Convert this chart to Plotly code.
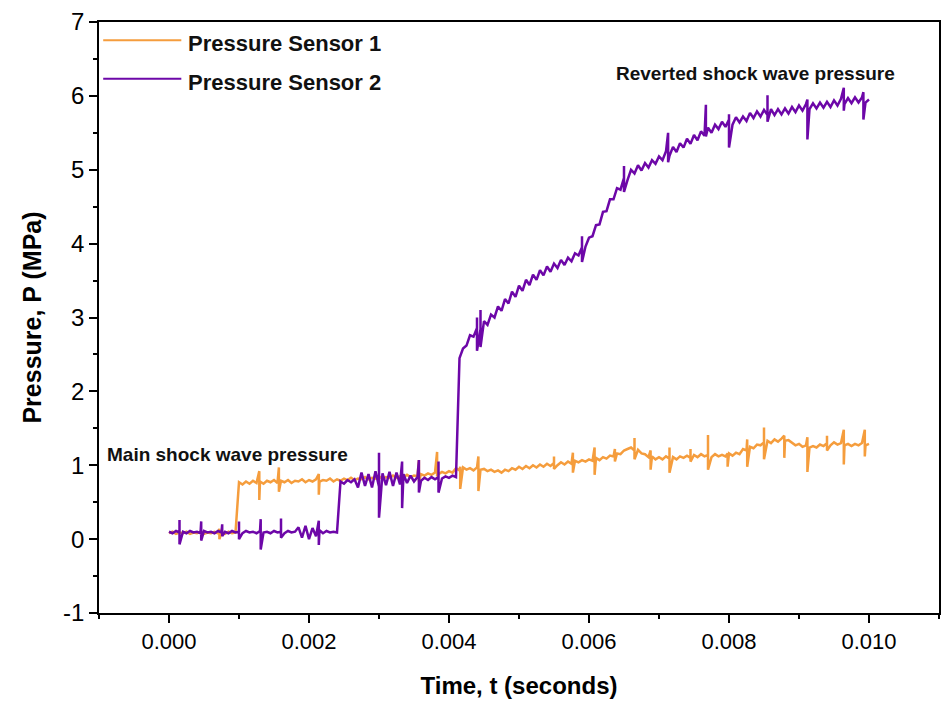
import plotly.graph_objects as go

# ---------------- data ----------------
T_STEP = 0.00005  # sample spacing of the traces (s)

sensor1_p = [
    0.08, 0.10, 0.07, 0.09, 0.08, 0.10, 0.07, 0.09, 0.08, 0.10, 0.07, 0.09, 0.08, 0.10, 0.08, 0.09, 0.07, 0.10, 0.08, 0.09,
    0.77, 0.74, 0.78, 0.75, 0.79, 0.76, 0.78, 0.75, 0.79, 0.77, 0.80, 0.76, 0.79, 0.77, 0.80, 0.76, 0.79, 0.78, 0.81, 0.77,
    0.80, 0.78, 0.81, 0.78, 0.80, 0.79, 0.82, 0.78,
    0.81, 0.79, 0.82, 0.80, 0.83, 0.80, 0.82, 0.81, 0.84, 0.81, 0.83, 0.82, 0.85, 0.82, 0.84, 0.83, 0.86, 0.83, 0.85, 0.84,
    0.87, 0.84, 0.86, 0.85, 0.88, 0.86,
    0.89, 0.87, 0.90, 0.88, 0.91, 0.89, 0.92, 0.90,
    0.96, 0.93, 0.97, 0.94, 0.96, 0.93, 0.97, 0.94,
    0.95, 0.92, 0.94, 0.91, 0.93, 0.90, 0.94, 0.92, 0.96, 0.94,
    0.98, 0.95, 0.99, 0.96, 1.00, 0.97, 1.01, 0.98, 1.02, 0.99, 1.03, 1.00,
    1.04, 1.01, 1.05, 1.02, 1.06, 1.04, 1.07, 1.05, 1.08, 1.06, 1.10, 1.07,
    1.11, 1.09, 1.13, 1.12, 1.16, 1.15, 1.20, 1.22,
    1.24, 1.20, 1.21, 1.16, 1.15, 1.11, 1.12, 1.08,
    1.11, 1.08, 1.12, 1.09, 1.11, 1.08, 1.12, 1.10, 1.13, 1.10,
    1.14, 1.11, 1.15, 1.12, 1.14, 1.11, 1.15, 1.12, 1.14, 1.12, 1.16, 1.13,
    1.17, 1.15, 1.22, 1.20, 1.25, 1.23, 1.28, 1.27, 1.31,
    1.33, 1.30, 1.35, 1.32, 1.36, 1.33, 1.34,
    1.30, 1.27, 1.29, 1.25, 1.27, 1.24, 1.26, 1.24,
    1.28, 1.26, 1.30, 1.27, 1.31, 1.28, 1.30, 1.27, 1.29, 1.26, 1.29, 1.27, 1.30, 1.27, 1.29,
]

sensor2_p = [
    0.10, 0.08, 0.11, 0.09, 0.10, 0.08, 0.11, 0.09, 0.10, 0.08,
    0.11, 0.09, 0.10, 0.08, 0.11, 0.09, 0.10, 0.08, 0.11, 0.09,
    0.10, 0.08, 0.11, 0.09, 0.10, 0.08, 0.11, 0.09, 0.10, 0.08,
    0.11, 0.09, 0.10, 0.08, 0.11, 0.09, 0.10, 0.16, 0.02, 0.18,
    0.00, 0.15, 0.04, 0.12, 0.08, 0.11, 0.09, 0.10, 0.09,
    0.78, 0.75, 0.80, 0.77, 0.81, 0.70, 0.90, 0.72, 0.88, 0.70, 0.92, 0.71, 0.89, 0.73, 0.91, 0.72, 0.90,
    0.74, 0.88, 0.76, 0.86, 0.78, 0.84, 0.79, 0.83, 0.80, 0.84, 0.81, 0.84, 0.82, 0.85, 0.83, 0.86, 0.84,
    2.45, 2.58, 2.62, 2.76, 2.74, 2.86, 2.84, 2.95, 2.90, 3.04, 3.00, 3.15, 3.09, 3.25, 3.19, 3.35, 3.28,
    3.43, 3.36, 3.51, 3.44, 3.58, 3.51, 3.64, 3.57, 3.69, 3.62, 3.73, 3.67, 3.78, 3.71, 3.81, 3.76,
    3.87, 3.84, 3.95, 3.96, 4.08, 4.10, 4.25, 4.26, 4.43, 4.44, 4.60, 4.60, 4.75, 4.73, 4.89, 4.86,
    5.00, 4.95, 5.06, 4.99, 5.09, 5.03, 5.13, 5.08, 5.18, 5.13, 5.25, 5.19, 5.31, 5.24, 5.36, 5.30,
    5.42, 5.35, 5.47, 5.40, 5.52, 5.46, 5.57, 5.50, 5.61, 5.55, 5.65, 5.58, 5.68, 5.61, 5.71, 5.64,
    5.72, 5.66, 5.77, 5.70, 5.79, 5.72, 5.81, 5.74, 5.82, 5.74, 5.82, 5.75, 5.83, 5.76, 5.85, 5.78,
    5.87, 5.80, 5.89, 5.82, 5.90, 5.83, 5.91, 5.84, 5.92, 5.85, 5.94, 5.87, 5.96, 5.89, 5.97, 5.90,
    5.98, 5.91, 5.98, 5.91, 5.95,
]

# transient spikes: time (s), upper excursion, lower excursion (MPa)
sensor1_spike_t = [0.00072, 0.00129, 0.00157, 0.00214, 0.00357, 0.00383, 0.00416, 0.00442, 0.00550,
                   0.00577, 0.00608, 0.00637, 0.00665, 0.00688, 0.00715, 0.00745, 0.00770, 0.00798,
                   0.00826, 0.00850, 0.00879, 0.00912, 0.00940, 0.00964, 0.00994]
sensor1_spike_hi = [0.14, 0.92, 0.97, 0.88, 1.07, 1.18, 0.98, 1.12, 1.12,
                    1.17, 1.24, 1.22, 1.37, 1.20, 1.24, 1.22, 1.41, 1.16,
                    1.35, 1.51, 1.40, 1.38, 1.40, 1.48, 1.48]
sensor1_spike_lo = [0.00, 0.53, 0.64, 0.60, 0.78, 0.85, 0.68, 0.65, 0.95,
                    0.90, 0.87, 1.05, 1.08, 0.94, 0.90, 1.05, 0.94, 0.98,
                    0.98, 1.08, 1.10, 0.91, 1.20, 1.01, 1.12]

sensor2_spike_t = [0.00015, 0.00046, 0.00076, 0.00100, 0.00131, 0.00160, 0.00214, 0.00300, 0.00333,
                   0.00357, 0.00385, 0.00440, 0.00445, 0.00590, 0.00650, 0.00713, 0.00767, 0.00800,
                   0.00855, 0.00912, 0.00964, 0.00992]
sensor2_spike_hi = [0.26, 0.24, 0.20, 0.24, 0.27, 0.28, 0.25, 1.17, 1.05,
                    1.07, 1.05, 3.00, 3.10, 4.10, 5.05, 5.50, 5.88, 5.75,
                    6.01, 5.95, 6.11, 6.05]
sensor2_spike_lo = [-0.07, -0.02, 0.04, 0.00, -0.14, 0.02, -0.08, 0.29, 0.42,
                    0.63, 0.63, 2.55, 2.60, 3.75, 4.70, 5.10, 5.45, 5.30,
                    5.65, 5.41, 5.80, 5.68]

series_names = ["Pressure Sensor 1", "Pressure Sensor 2"]
series_colors = ["#F59D3D", "#6D07A8"]

x_tick_vals = [0.000, 0.002, 0.004, 0.006, 0.008, 0.010]
x_tick_text = ["0.000", "0.002", "0.004", "0.006", "0.008", "0.010"]
y_tick_vals = [-1, 0, 1, 2, 3, 4, 5, 6, 7]
y_tick_text = ["-1", "0", "1", "2", "3", "4", "5", "6", "7"]


def build(values, sp_t, sp_hi, sp_lo):
    pts = [(round(i * T_STEP, 6), 0, v) for i, v in enumerate(values)]
    for t, hi, lo in zip(sp_t, sp_hi, sp_lo):
        pts.append((t, 1, hi))
        pts.append((t, 2, lo))
    pts.sort(key=lambda p: (p[0], p[1]))
    return [p[0] for p in pts], [p[2] for p in pts]


x1, y1 = build(sensor1_p, sensor1_spike_t, sensor1_spike_hi, sensor1_spike_lo)
x2, y2 = build(sensor2_p, sensor2_spike_t, sensor2_spike_hi, sensor2_spike_lo)

fig = go.Figure()
fig.add_trace(go.Scatter(x=x1, y=y1, mode="lines", name=series_names[0],
                         line=dict(color=series_colors[0], width=2.5), showlegend=False))
fig.add_trace(go.Scatter(x=x2, y=y2, mode="lines", name=series_names[1],
                         line=dict(color=series_colors[1], width=2.5), showlegend=False))

FONT = "Arial, 'Liberation Sans', sans-serif"

fig.update_layout(
    width=943, height=706,
    margin=dict(l=99, r=2, t=22, b=93),
    paper_bgcolor="white", plot_bgcolor="white",
    font=dict(family=FONT, color="black"),
)

fig.update_xaxes(
    range=[-0.001, 0.011],
    tickvals=x_tick_vals, ticktext=x_tick_text,
    ticks="outside", ticklen=8, tickwidth=1.5, tickcolor="black",
    minor=dict(dtick=0.001, tick0=0, ticks="outside", ticklen=4, tickwidth=1.5, tickcolor="black"),
    showline=True, linecolor="black", linewidth=1.5, mirror=True,
    showgrid=False, zeroline=False,
    tickfont=dict(size=22, family=FONT),
    title=dict(text="<b>Time, t (seconds)</b>", font=dict(size=24, family=FONT), standoff=24),
)
fig.update_yaxes(
    range=[-1, 7],
    tickvals=y_tick_vals, ticktext=y_tick_text,
    ticks="outside", ticklen=8, tickwidth=1.5, tickcolor="black",
    minor=dict(dtick=0.5, tick0=0, ticks="outside", ticklen=4, tickwidth=1.5, tickcolor="black"),
    showline=True, linecolor="black", linewidth=1.5, mirror=True,
    showgrid=False, zeroline=False,
    tickfont=dict(size=24, family=FONT),
    title=dict(text="<b>Pressure, P (MPa)</b>", font=dict(size=25, family=FONT), standoff=14),
)

# manual legend (long line samples as in the reference)
legend_y = [0.969, 0.904]
for name, color, ly in zip(series_names, series_colors, legend_y):
    fig.add_shape(type="line", xref="paper", yref="paper",
                  x0=0.005, x1=0.098, y0=ly, y1=ly,
                  line=dict(color=color, width=2))
    fig.add_annotation(xref="paper", yref="paper", x=0.104, y=ly - 0.006,
                       text="<b>" + name + "</b>", showarrow=False,
                       xanchor="left", yanchor="middle",
                       font=dict(size=22, family=FONT, color="#111"))

fig.add_annotation(xref="x", yref="y", x=0.00084, y=1.14,
                   text="<b>Main shock wave pressure</b>", showarrow=False,
                   xanchor="center", yanchor="middle",
                   font=dict(size=19, family=FONT, color="#111"))
fig.add_annotation(xref="x", yref="y", x=0.00838, y=6.3,
                   text="<b>Reverted shock wave pressure</b>", showarrow=False,
                   xanchor="center", yanchor="middle",
                   font=dict(size=19, family=FONT, color="#111"))

fig.write_html("out.html")
